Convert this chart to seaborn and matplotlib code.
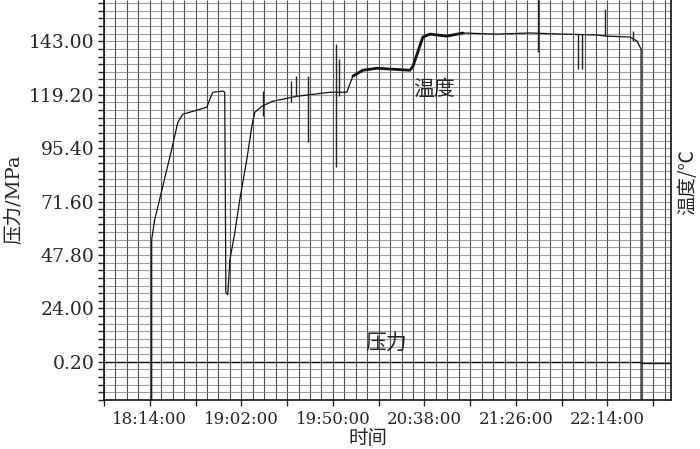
import numpy as np
import pandas as pd
import matplotlib
matplotlib.use("Agg")
import matplotlib.pyplot as plt
import seaborn as sns

# ---------------- data ----------------
def hm(s):
    h, m = s.split(":")[:2]
    return int(h) * 60 + int(m)

x_tick_labels = ["18:14:00", "19:02:00", "19:50:00", "20:38:00", "21:26:00", "22:14:00"]
y_tick_values = [0.20, 24.00, 47.80, 71.60, 95.40, 119.20, 143.00]
y_tick_labels = ["0.20", "24.00", "47.80", "71.60", "95.40", "119.20", "143.00"]

# temperature trace (minutes of day, value in left-axis units)
temp_time = [1095.0, 1095.0, 1096.6, 1100.8, 1105.5, 1108.7, 1111.3, 1116.6, 1123.9,
             1125.5, 1127.0, 1132.3, 1133.3, 1133.9, 1134.9, 1136.0, 1138.6, 1141.2,
             1144.9, 1147.5, 1149.1, 1152.8, 1158.5, 1171.1, 1188.4, 1197.3, 1200.5,
             1205.7, 1213.1, 1230.4, 1232.0, 1237.2, 1240.9, 1249.8, 1258.2, 1276.0,
             1293.3, 1310.7, 1328.5, 1333.7, 1345.8, 1349.5, 1351.6, 1351.6]
temp_value = [-18.0, 54.7, 63.6, 78.3, 94.9, 106.9, 110.5, 111.8, 113.6,
              117.2, 120.3, 120.8, 120.3, 31.0, 30.1, 45.7, 57.8, 72.5,
              90.4, 105.1, 111.4, 114.1, 116.3, 118.5, 120.3, 120.3, 127.5,
              130.1, 131.0, 130.1, 131.9, 144.9, 146.2, 145.3, 146.7, 146.2,
              146.7, 146.2, 145.8, 145.3, 144.9, 143.1, 139.5, -18.0]

# noisy spikes on the temperature trace
spike_time = [1153.3, 1168.0, 1170.6, 1176.9, 1191.6, 1193.2, 1297.5, 1318.5, 1320.6, 1332.7, 1347.4]
spike_low = [109.6, 115.8, 118.5, 98.0, 86.8, 118.5, 138.2, 130.6, 130.6, 145.3, 143.1]
spike_high = [120.8, 125.2, 127.5, 127.5, 141.7, 135.0, 162.0, 146.2, 146.2, 157.4, 147.5]

# pressure trace
press_time = [1070.0, 1351.6, 1351.6, 1368.0]
press_value = [0.2, 0.2, -0.3, -0.3]

# ---------------- style ----------------
sns.set_style("white")
plt.rcParams["font.family"] = ["DejaVu Serif", "Noto Sans CJK SC"]
plt.rcParams["axes.unicode_minus"] = False

fig = plt.figure(figsize=(7.0, 4.49), dpi=100)
ax = fig.add_axes([104 / 700, 1 - 400 / 449, (671 - 104) / 700, 400 / 449])

x_min, x_max = 1070.0, 1367.3
y_min, y_max = -16.8, 161.4

# grid (graph paper)
grid_x = np.arange(x_min, x_max + 0.1, 6.0)
grid_y = np.arange(y_min, y_max, 3.4)
ax.vlines(grid_x, y_min, y_max, colors="#222222", linewidth=0.8, alpha=0.8, zorder=1)
ax.hlines(grid_y, x_min, x_max, colors="#777777", linewidth=0.8, alpha=0.7, zorder=1)

df_t = pd.DataFrame({"time": temp_time, "value": temp_value})
sns.lineplot(data=df_t, x="time", y="value", sort=False, estimator=None,
             color="#111111", linewidth=0.9, ax=ax, zorder=3)
thick = df_t[(df_t["time"] >= 1200) & (df_t["time"] <= 1262)]
sns.lineplot(data=thick, x="time", y="value", sort=False, estimator=None,
             color="#111111", linewidth=2.0, ax=ax, zorder=3)
ax.vlines(spike_time, spike_low, spike_high, colors="#222222", linewidth=1.0, zorder=3)

df_p = pd.DataFrame({"time": press_time, "value": press_value})
sns.lineplot(data=df_p, x="time", y="value", sort=False, estimator=None,
             color="#111111", linewidth=1.0, ax=ax, zorder=3)

ax.set_xlim(x_min, x_max)
ax.set_ylim(y_min, y_max)

# ticks
ax.set_yticks(y_tick_values)
ax.set_yticklabels(y_tick_labels, fontsize=13.5)
ax.set_yticks(grid_y, minor=True)
ax.set_xticks([hm(s) for s in x_tick_labels])
ax.set_xticklabels(x_tick_labels, fontsize=12)
ax.set_xticks(np.arange(1094 - 24, x_max, 24.0), minor=True)
ax.tick_params(axis="y", which="both", direction="out", length=4, width=1, pad=3, left=True)
ax.tick_params(axis="x", which="both", direction="out", length=4, width=1, pad=4, bottom=True)
ax.set_xlabel("")
ax.set_ylabel("")

for side in ["left", "bottom", "right"]:
    ax.spines[side].set_visible(True)
    ax.spines[side].set_color("#111111")
    ax.spines[side].set_linewidth(1.2)
ax.spines["top"].set_visible(False)

# labels
ax.text(hm("20:38") + 5, 122.0, "温度", fontsize=15, ha="center", va="center",
        family=["Noto Sans CJK SC"], zorder=4)
ax.text(1218.0, 8.5, "压力", fontsize=15, ha="center", va="center",
        family=["Noto Sans CJK SC"], zorder=4)

fig.text(15 / 700, 1 - 199 / 449, "压力/MPa", rotation=90, fontsize=14,
         ha="center", va="center")
fig.text(688 / 700, 1 - 182 / 449, "温度/℃", rotation=90, fontsize=14,
         ha="center", va="center", family=["Noto Sans CJK SC", "DejaVu Serif"])
fig.text(368 / 700, 1 - 438 / 449, "时间", fontsize=14, ha="center", va="center",
         family=["Noto Sans CJK SC"])

fig.savefig("out.png", dpi=100)
